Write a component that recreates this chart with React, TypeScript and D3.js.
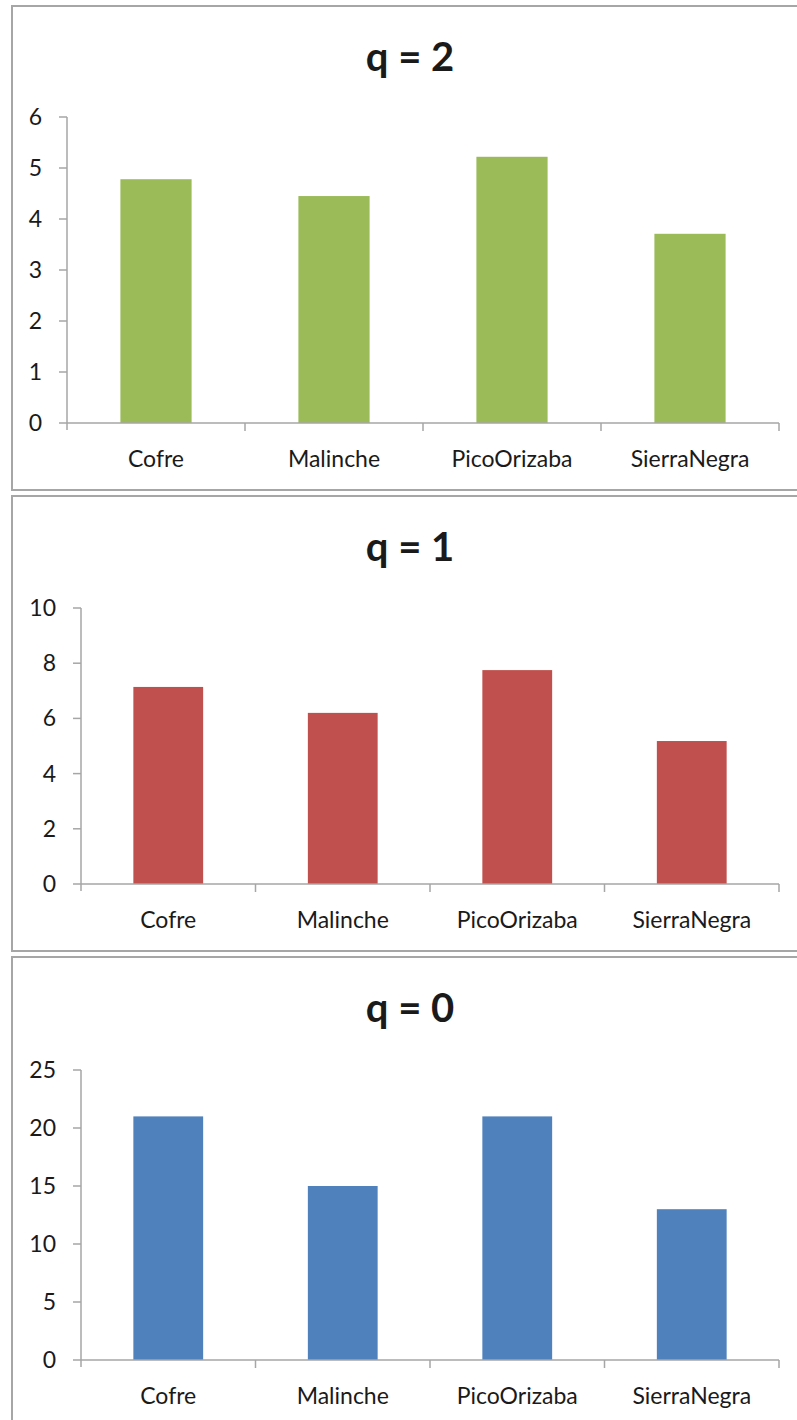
import React from "react";
import * as d3 from "d3";

const categories = ["Cofre", "Malinche", "PicoOrizaba", "SierraNegra"];
const q2Values = [4.78, 4.45, 5.22, 3.71];
const q1Values = [7.14, 6.2, 7.75, 5.18];
const q0Values = [21, 15, 21, 13];
const q2Ticks = [0, 1, 2, 3, 4, 5, 6];
const q1Ticks = [0, 2, 4, 6, 8, 10];
const q0Ticks = [0, 5, 10, 15, 20, 25];

const FONT = "Lato, 'Open Sans', sans-serif";
const GRAY = "#a6a6a6";

type PanelProps = {
  title: string;
  values: number[];
  ticks: number[];
  color: string;
  box: { y0: number; y1: number };
  plot: { x0: number; x1: number; top: number; zero: number };
};

function Panel({ title, values, ticks, color, box, plot }: PanelProps) {
  const x = d3.scaleBand<string>().domain(categories).range([plot.x0, plot.x1]).paddingInner(0.6).paddingOuter(0.3);
  const xEdge = d3.scaleBand<string>().domain(categories).range([plot.x0, plot.x1]);
  const y = d3.scaleLinear().domain([0, ticks[ticks.length - 1]]).range([plot.zero, plot.top]);
  return (
    <g>
      <rect x={12} y={box.y0} width={800} height={box.y1 - box.y0} fill="#fff" stroke={GRAY} strokeWidth={2} />
      <text x={410} y={box.y0 + 65} textAnchor="middle" fontFamily={FONT} fontWeight={700} fontSize={40} fill="#1a1a1a">
        {title}
      </text>
      {values.map((v, i) => (
        <rect key={i} x={x(categories[i])} y={y(v)} width={x.bandwidth()} height={y(0) - y(v)} fill={color} />
      ))}
      <line x1={plot.x0} x2={plot.x0} y1={y(ticks[ticks.length - 1])} y2={y(0) + 7} stroke={GRAY} strokeWidth={1.5} />
      {ticks.map((t) => (
        <g key={t}>
          <line x1={plot.x0 - 8} x2={plot.x0} y1={y(t)} y2={y(t)} stroke={GRAY} strokeWidth={1.5} />
          <text x={plot.x0 - 25} y={y(t)} dy="0.35em" textAnchor="end" fontFamily={FONT} fontSize={23} fill="#1a1a1a">
            {t}
          </text>
        </g>
      ))}
      <line x1={plot.x0} x2={plot.x1} y1={y(0)} y2={y(0)} stroke={GRAY} strokeWidth={1.5} />
      {categories.map((c, i) => (
        <g key={c}>
          <line x1={xEdge(c)! + xEdge.bandwidth()} x2={xEdge(c)! + xEdge.bandwidth()} y1={y(0)} y2={y(0) + 8} stroke={GRAY} strokeWidth={1.5} />
          <text x={xEdge(c)! + xEdge.bandwidth() / 2} y={y(0) + 44} textAnchor="middle" fontFamily={FONT} fontSize={23} fill="#1a1a1a">
            {c}
          </text>
        </g>
      ))}
    </g>
  );
}

export default function App() {
  return (
    <svg width={797} height={1420} style={{ position: "absolute", left: 0, top: 0 }}>
      <rect width={797} height={1420} fill="#fff" />
      <Panel title="q = 2" values={q2Values} ticks={q2Ticks} color="#9bbb59"
        box={{ y0: 6, y1: 490 }} plot={{ x0: 67, x1: 779, top: 117, zero: 423 }} />
      <Panel title="q = 1" values={q1Values} ticks={q1Ticks} color="#c0504d"
        box={{ y0: 496, y1: 951 }} plot={{ x0: 81, x1: 779, top: 608, zero: 884 }} />
      <Panel title="q = 0" values={q0Values} ticks={q0Ticks} color="#4f81bd"
        box={{ y0: 957, y1: 1440 }} plot={{ x0: 81, x1: 779, top: 1070, zero: 1360 }} />
    </svg>
  );
}
